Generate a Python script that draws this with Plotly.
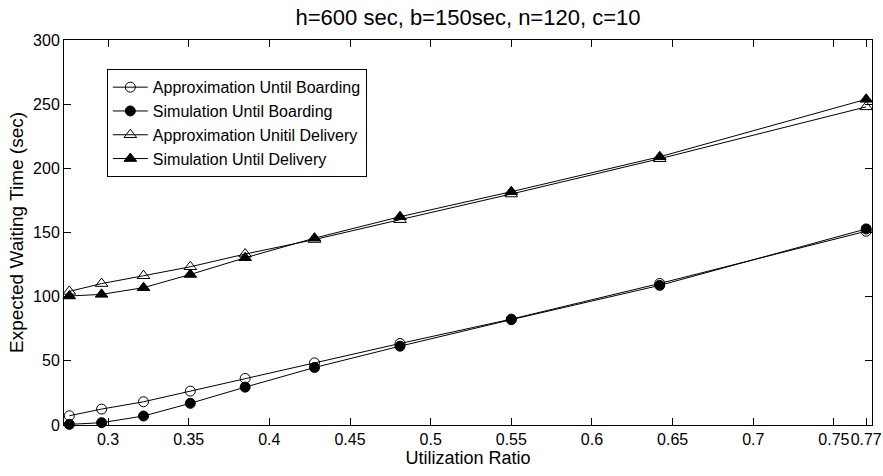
import plotly.graph_objects as go

# Utilization ratio for each run
utilization = [0.276, 0.296, 0.322, 0.351, 0.385, 0.428, 0.481, 0.550, 0.642, 0.770]

# Expected waiting times (sec)
approx_boarding = [7.2, 12.4, 18.1, 26.4, 36.3, 48.4, 63.5, 82.5, 110.3, 151.0]
sim_boarding = [0.5, 1.8, 7.0, 16.9, 29.5, 44.8, 61.4, 82.1, 108.8, 152.8]
approx_delivery = [104.1, 110.2, 116.3, 123.3, 133.2, 144.5, 160.0, 180.0, 207.5, 247.9]
sim_delivery = [100.5, 101.8, 107.0, 117.3, 130.3, 145.6, 162.3, 181.8, 209.0, 253.8]

x_ticks = [0.3, 0.35, 0.4, 0.45, 0.5, 0.55, 0.6, 0.65, 0.7, 0.75, 0.77]
x_tick_text = ["0.3", "0.35", "0.4", "0.45", "0.5", "0.55", "0.6", "0.65", "0.7", "0.75", "0.77"]
y_ticks = [0, 50, 100, 150, 200, 250, 300]

series = [
    ("Approximation Until Boarding", approx_boarding, "circle-open", 10),
    ("Simulation Until Boarding", sim_boarding, "circle", 10),
    ("Approximation Unitil Delivery", approx_delivery, "triangle-up-open", 11),
    ("Simulation Until Delivery", sim_delivery, "triangle-up", 11),
]

fig = go.Figure()
for name, values, symbol, size in series:
    fig.add_trace(go.Scatter(
        x=utilization, y=values, name=name, mode="lines+markers",
        line=dict(color="black", width=1),
        marker=dict(symbol=symbol, size=size, color="black",
                    line=dict(color="black", width=1)),
        cliponaxis=False,
    ))

font_family = "Liberation Sans, Arial, sans-serif"
axis_common = dict(
    showline=True, linecolor="black", linewidth=1, mirror="ticks",
    ticks="inside", ticklen=7, tickcolor="black", tickwidth=1,
    showgrid=False, zeroline=False, automargin=False,
    tickfont=dict(family=font_family, size=16, color="black"),
)

fig.update_layout(
    width=883, height=476,
    margin=dict(l=64, r=11, t=40, b=51),
    paper_bgcolor="white", plot_bgcolor="white",
    font=dict(family=font_family, color="black"),
    title=dict(text="h=600 sec, b=150sec, n=120, c=10",
               x=(64 + 404) / 883, xanchor="center",
               y=1 - 17 / 476, yanchor="middle", yref="container",
               font=dict(size=22, family=font_family, color="black")),
    showlegend=True,
    legend=dict(x=0.053, y=0.924, xanchor="left", yanchor="top",
                bgcolor="white", bordercolor="black", borderwidth=1,
                font=dict(size=16, family=font_family, color="black"),
                tracegroupgap=0, itemwidth=35),
    xaxis=dict(range=[0.2727, 0.7736], tickvals=x_ticks, ticktext=x_tick_text,
               tickangle=0,
               title=dict(text="Utilization Ratio", standoff=4,
                          font=dict(size=18, family=font_family, color="black")),
               **axis_common),
    yaxis=dict(range=[0, 300], tickvals=y_ticks,
               title=dict(text="Expected Waiting Time (sec)", standoff=4,
                          font=dict(size=19, family=font_family, color="black")),
               **axis_common),
)

fig.write_html("out.html")
